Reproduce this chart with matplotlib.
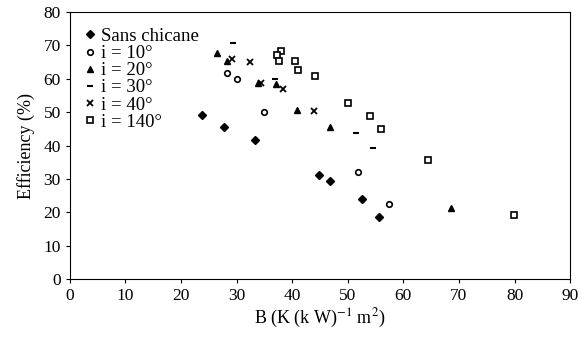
import matplotlib
matplotlib.use("Agg")
import matplotlib.pyplot as plt

# Data
sans_x = [23.8, 27.7, 33.3, 44.8, 46.8, 52.6, 55.6]
sans_y = [49.1, 45.5, 41.6, 31.1, 29.3, 24.0, 18.6]

i10_x = [28.3, 30.1, 34.9, 51.8, 57.4]
i10_y = [61.7, 59.9, 50.0, 32.0, 22.5]

i20_x = [26.4, 28.2, 33.8, 37.1, 40.9, 46.8, 68.5]
i20_y = [67.7, 65.3, 58.7, 58.4, 50.6, 45.5, 21.3]

i30_x = [29.3, 36.9, 51.4, 54.5]
i30_y = [70.7, 59.9, 43.7, 39.2]

i40_x = [29.2, 32.4, 34.4, 38.3, 43.9]
i40_y = [65.9, 65.0, 58.7, 56.9, 50.3]

i140_x = [38.0, 37.3, 37.6, 40.5, 41.0, 44.1, 50.0, 54.0, 56.0, 64.4, 79.9]
i140_y = [68.3, 67.1, 65.3, 65.3, 62.6, 60.8, 52.7, 48.8, 44.9, 35.6, 19.2]

plt.rcParams['font.family'] = ['Liberation Serif', 'DejaVu Serif']
plt.rcParams['mathtext.fontset'] = 'stix'

fig = plt.figure(figsize=(5.86, 3.37), dpi=100)
ax = fig.add_axes([0.119, 0.172, 0.854, 0.792])

ax.plot(sans_x, sans_y, 'D', color='black', markersize=4, ls='none', label='Sans chicane')
ax.plot(i10_x, i10_y, 'o', mfc='white', mec='black', mew=1.2, markersize=4, ls='none', label='i = 10°')
ax.plot(i20_x, i20_y, '^', color='black', markersize=5, ls='none', label='i = 20°')
ax.plot(i30_x, i30_y, '_', color='black', mew=1.5, markersize=4, ls='none', label='i = 30°')
ax.plot(i40_x, i40_y, 'x', color='black', mew=1.3, markersize=5, ls='none', label='i = 40°')
ax.plot(i140_x, i140_y, 's', mfc='white', mec='black', mew=1.2, markersize=5, ls='none', label='i = 140°')

ax.set_xlim(0, 90)
ax.set_ylim(0, 80)
ax.set_xticks(range(0, 91, 10))
ax.set_yticks(range(0, 81, 10))
ax.tick_params(direction='out', length=3, labelsize=12.5, width=0.8)
ax.set_xlabel('B (K (k W)$^{-1}$ m$^{2}$)', fontsize=13, labelpad=2)
ax.set_ylabel('Efficiency (%)', fontsize=13, labelpad=6)

ax.legend(loc='upper left', frameon=False, fontsize=13.5, handletextpad=0.1,
          labelspacing=0.0, borderaxespad=0.3, handlelength=1.0,
          bbox_to_anchor=(-0.005, 0.99))

fig.savefig('out.png', dpi=100)
